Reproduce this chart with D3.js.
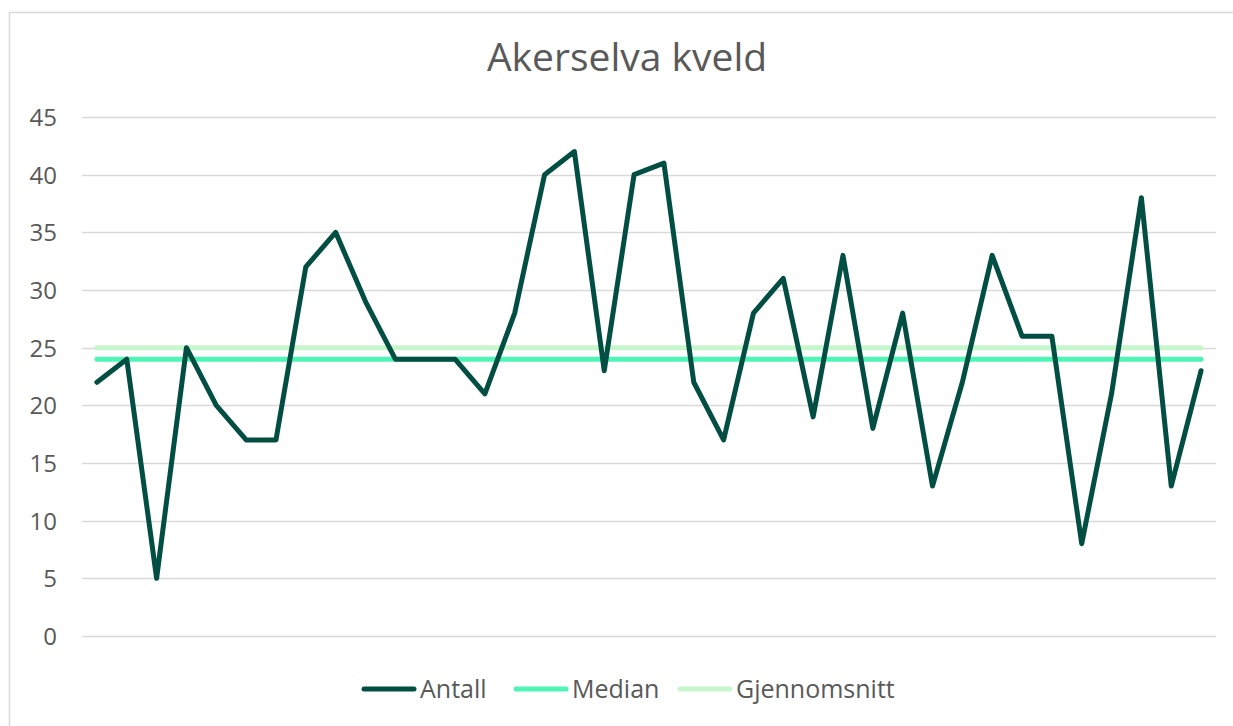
<!DOCTYPE html>
<html><head><meta charset="utf-8">
<script src="https://cdn.jsdelivr.net/npm/d3@7"></script>
<style>body{margin:0;background:#fff;}svg{display:block;font-family:"Open Sans","Noto Sans",sans-serif;}</style>
</head><body>
<svg id="c" width="1233" height="726"></svg>
<script>
const title = "Akerselva kveld";
const antall = [22,24,5,25,20,17,17,32,35,29,24,24,24,21,28,40,42,23,40,41,22,17,28,31,19,33,18,28,13,22,33,26,26,8,21,38,13,23];
const medianVal = 24;
const meanVal = 25;
const yTicks = [0,5,10,15,20,25,30,35,40,45];
const seriesNames = ["Antall","Median","Gjennomsnitt"];
const colors = ["#034e43","#4ff5b4","#c6f6cb"];

const svg = d3.select("#c");
svg.append("rect").attr("x",9.5).attr("y",12.5).attr("width",1240).attr("height",730)
  .attr("fill","#fff").attr("stroke","#d9d9d9").attr("stroke-width",1.5);

const x = d3.scaleBand().domain(d3.range(antall.length)).range([82,1216]);
const y = d3.scaleLinear().domain([0,45]).range([636,117]);
const cx = i => x(i) + x.bandwidth()/2;

// gridlines
svg.append("g").selectAll("line").data(yTicks).join("line")
  .attr("x1",82).attr("x2",1216).attr("y1",d=>Math.round(y(d))+0.5).attr("y2",d=>Math.round(y(d))+0.5)
  .attr("stroke","#d9d9d9").attr("stroke-width",1.5);

// y axis labels
const yAxis = d3.axisLeft(y).tickValues(yTicks).tickSize(0).tickPadding(0);
const ga = svg.append("g").attr("transform","translate(57,0)").call(yAxis);
ga.select(".domain").remove();
ga.selectAll("text").attr("font-size",24).attr("fill","#595959").attr("font-family","'Open Sans',sans-serif").attr("dy","0.35em");

// title
svg.append("text").attr("x",627).attr("y",71).attr("text-anchor","middle")
  .attr("font-size",39).attr("fill","#595959").text(title);

const line = d3.line().x((d,i)=>cx(i)).y(d=>y(d));
const n = antall.length;
svg.append("path").datum(d3.range(n).map(()=>meanVal)).attr("d",line)
  .attr("fill","none").attr("stroke",colors[2]).attr("stroke-width",5).attr("stroke-linecap","round");
svg.append("path").datum(d3.range(n).map(()=>medianVal)).attr("d",line)
  .attr("fill","none").attr("stroke",colors[1]).attr("stroke-width",5).attr("stroke-linecap","round");
svg.append("path").datum(antall).attr("d",line)
  .attr("fill","none").attr("stroke",colors[0]).attr("stroke-width",5)
  .attr("stroke-linecap","round").attr("stroke-linejoin","round");

// legend
const lg = svg.append("g");
const legendX = [362,514,678];
seriesNames.forEach((name,i)=>{
  lg.append("line").attr("x1",legendX[i]+2).attr("x2",legendX[i]+52).attr("y1",689).attr("y2",689)
    .attr("stroke",colors[i]).attr("stroke-width",5).attr("stroke-linecap","round");
  lg.append("text").attr("x",legendX[i]+58).attr("y",689).attr("dy","0.35em")
    .attr("font-size",25).attr("fill","#595959").text(name);
});
</script>
</body></html>
